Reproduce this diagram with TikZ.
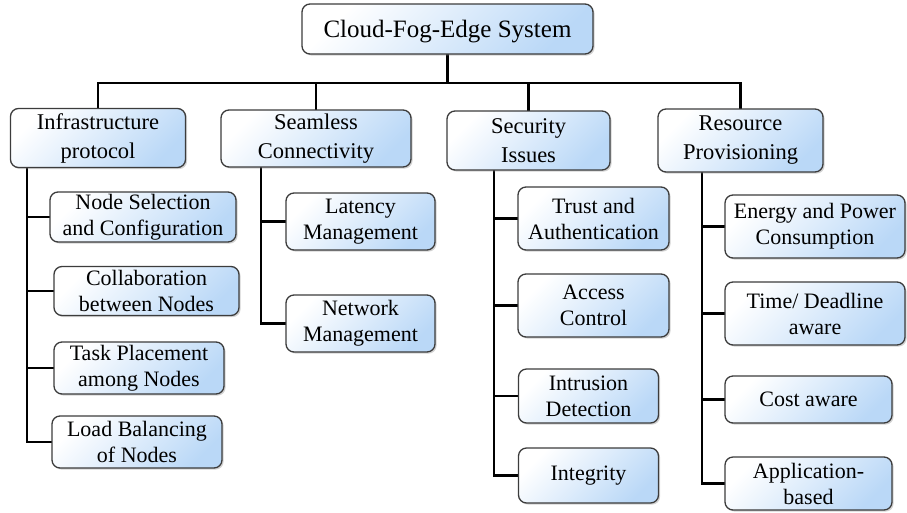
\documentclass[tikz,border=0pt]{standalone}
\usepackage{fontspec}
\setmainfont{Liberation Serif}
\usetikzlibrary{shadows,backgrounds}
\definecolor{boxblue}{RGB}{186,216,247}
\definecolor{boxline}{RGB}{60,60,60}
\begin{document}
\begin{tikzpicture}[x=1pt,y=-1pt,
  box/.style={draw=boxline, line width=1.3pt, rounded corners=8pt,
    top color=white, bottom color=boxblue, shading angle=45,
    drop shadow={shadow xshift=1.6pt,shadow yshift=-1.6pt,opacity=0.35},
    align=center, inner sep=0pt},
  sz/.style 2 args={minimum width=#1pt, minimum height=#2pt},
  rootfont/.style={font=\fontsize{25}{30}\selectfont},
  lonefont/.style={font=\fontsize{22.5}{29}\selectfont},
  ltwofont/.style={font=\fontsize{22}{26}\selectfont},
  conn/.style={line width=2.4pt, black, line cap=rect}]
\useasboundingbox (0,0) rectangle (907,512);

% root
\node[box, rootfont, sz={291}{50}, text depth=0pt] (root) at (447.5,29) {Cloud-Fog-Edge System};

% level 1
\node[box, lonefont, sz={175}{59}] (infra) at (98,138) {Infrastructure\\protocol};
\node[box, lonefont, sz={190}{57}] (seam) at (316,138.5) {Seamless\\Connectivity};
\node[box, lonefont, sz={163}{59}] (sec) at (528.5,140.5) {Security\\Issues};
\node[box, lonefont, sz={165}{63}] (res) at (740.5,140.5) {Resource\\Provisioning};

% infrastructure children
\node[box, ltwofont, sz={186}{50}] (c11) at (143,217) {Node Selection\\and Configuration};
\node[box, ltwofont, sz={185}{49}] (c12) at (146.5,291) {Collaboration\\between Nodes};
\node[box, ltwofont, sz={170}{52}] (c13) at (139,368) {Task Placement\\among Nodes};
\node[box, ltwofont, sz={170}{52}] (c14) at (137,442) {Load Balancing\\of Nodes};

% seamless children
\node[box, ltwofont, sz={149}{57}] (c21) at (360.5,221.5) {Latency\\Management};
\node[box, ltwofont, sz={149}{57}] (c22) at (360.5,323.5) {Network\\Management};

% security children
\node[box, ltwofont, sz={151}{63}] (c31) at (593.5,218.5) {Trust and\\Authentication};
\node[box, ltwofont, sz={151}{63}] (c32) at (593.5,305.5) {Access\\Control};
\node[box, ltwofont, sz={140}{54}] (c33) at (588.5,396) {Intrusion\\Detection};
\node[box, ltwofont, sz={140}{55}] (c34) at (588.5,475.5) {Integrity};

% resource children
\node[box, ltwofont, sz={180}{63}] (c41) at (815,226.5) {Energy and Power\\Consumption};
\node[box, ltwofont, sz={180}{63}] (c42) at (815,313.5) {Time/ Deadline\\aware};
\node[box, ltwofont, sz={167}{47}] (c43) at (808.5,399.5) {Cost aware};
\node[box, ltwofont, sz={167}{53}] (c44) at (808.5,483.5) {Application-\\based};

\begin{pgfonlayer}{background}
  \coordinate (bus) at (0,83);
  \draw[conn] (root.south) -- (root.south |- bus);
  \draw[conn] (infra.north |- bus) -- (res.north |- bus);
  \foreach \n in {infra,seam,sec,res}
    \draw[conn] (\n.north) -- (\n.north |- bus);

  \coordinate (ia) at (27,0);
  \draw[conn] (ia |- infra.south) |- (c14.west);
  \foreach \c in {c11,c12,c13} \draw[conn] (ia |- \c.west) -- (\c.west);

  \coordinate (sa) at (261,0);
  \draw[conn] (sa |- seam.south) |- (c22.west);
  \draw[conn] (sa |- c21.west) -- (c21.west);

  \coordinate (ea) at (494,0);
  \draw[conn] (ea |- sec.south) |- (c34.west);
  \foreach \c in {c31,c32,c33} \draw[conn] (ea |- \c.west) -- (\c.west);

  \coordinate (ra) at (702,0);
  \draw[conn] (ra |- res.south) |- (c44.west);
  \foreach \c in {c41,c42,c43} \draw[conn] (ra |- \c.west) -- (\c.west);
\end{pgfonlayer}
\end{tikzpicture}
\end{document}
